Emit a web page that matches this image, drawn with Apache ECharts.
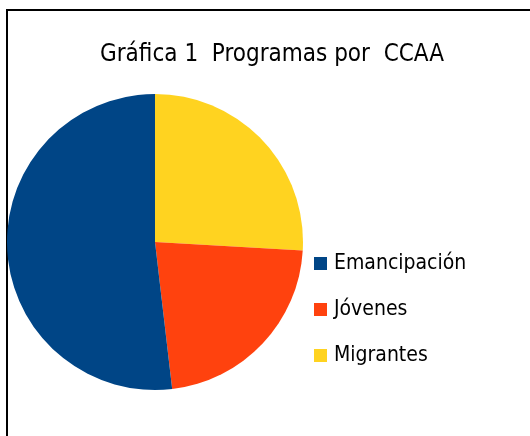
<!DOCTYPE html>
<html>
<head>
<meta charset="utf-8">
<title>Gráfica 1</title>
<style>
  html, body { margin: 0; padding: 0; background: #fff; }
  #main { width: 530px; height: 436px; }
</style>
</head>
<body>
<div id="main"></div>
<script src="https://cdn.jsdelivr.net/npm/echarts@6/dist/echarts.min.js"></script>
<script>
// datos (programas por comunidad)
var categorias = ['Emancipación', 'Jóvenes', 'Migrantes'];
var valores = [14, 6, 7];
var colores = ['#004586', '#ff420e', '#ffd320'];
// orden de dibujo: desde las 12 en sentido horario
var ordenPie = [2, 1, 0];

var fuente = '"Liberation Sans Narrow", "DejaVu Sans Condensed", sans-serif';

var datos = ordenPie.map(function (i) {
  return { name: categorias[i], value: valores[i], itemStyle: { color: colores[i] } };
});

var option = {
  animation: false,
  backgroundColor: '#fff',
  title: {
    text: 'Gráfica 1  Programas por  CCAA',
    left: 267,
    textAlign: 'center',
    top: 38,
    textStyle: { fontFamily: fuente, fontSize: 24, fontWeight: 'normal', color: '#000' }
  },
  legend: {
    data: categorias,
    orient: 'vertical',
    left: 309,
    top: 248,
    icon: 'rect',
    itemWidth: 13,
    itemHeight: 13,
    itemGap: 25,
    textStyle: { fontFamily: fuente, fontSize: 21, color: '#000', padding: [0, 0, 0, 2] }
  },
  graphic: [{
    type: 'rect',
    shape: { x: 7, y: 10, width: 560, height: 460 },
    style: { fill: 'none', stroke: '#000', lineWidth: 2 },
    silent: true
  }],
  series: [{
    type: 'pie',
    center: [155, 242],
    radius: 148,
    startAngle: 90,
    clockwise: true,
    label: { show: false },
    labelLine: { show: false },
    emphasis: { disabled: true },
    data: datos
  }]
};

var myChart = echarts.init(document.getElementById('main'));
myChart.setOption(option);
</script>
</body>
</html>
